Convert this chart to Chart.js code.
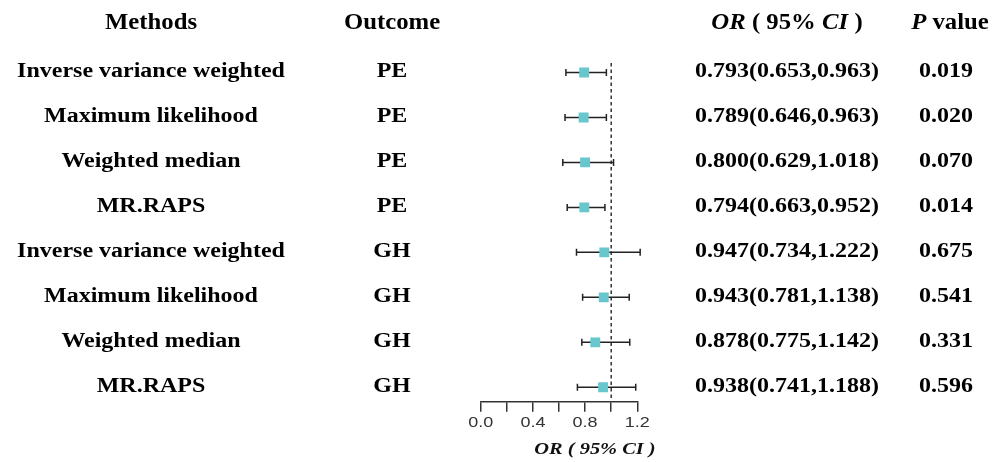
<!DOCTYPE html>
<html>
<head>
<meta charset="utf-8">
<script src="https://cdn.jsdelivr.net/npm/chart.js@4.4.0/dist/chart.umd.min.js"></script>
<style>
html,body{margin:0;padding:0;background:#fff;}
#wrap{position:relative;width:999px;height:462px;}
</style>
</head>
<body>
<div id="wrap"><canvas id="c"></canvas></div>
<script>
// ---- data ----
const methods = ["Inverse variance weighted","Maximum likelihood","Weighted median","MR.RAPS","Inverse variance weighted","Maximum likelihood","Weighted median","MR.RAPS"];
const outcomes = ["PE","PE","PE","PE","GH","GH","GH","GH"];
const orValues = [0.793,0.789,0.800,0.794,0.947,0.943,0.878,0.938];
const lowerCI = [0.653,0.646,0.629,0.663,0.734,0.781,0.775,0.741];
const upperCI = [0.963,0.963,1.018,0.952,1.222,1.138,1.142,1.188];
const pValues = ["0.019","0.020","0.070","0.014","0.675","0.541","0.331","0.596"];
const xTicks = [0.0,0.2,0.4,0.6,0.8,1.0,1.2];
const refLine = 1.0;

const SERIF = '"Liberation Serif","Times New Roman",serif';
const SANS = '"Liberation Sans",Arial,sans-serif';
const TEAL = '#68c6cd';
const INK = '#222222';
const SX = 1.2;   // horizontal text stretch seen in the reference (body)
const SXH = 1.1;  // header stretch

const points = orValues.map((v,i)=>({x:v,y:i+1}));

// draw a run of [text,font] segments centred on cx, horizontally stretched
function drawSegments(ctx, segs, cx, y, sx){
  sx = sx || SX;
  let total = 0;
  segs.forEach(s=>{ctx.font=s[1]; total += ctx.measureText(s[0]).width;});
  ctx.save();
  ctx.translate(cx, y);
  ctx.scale(sx, 1);
  let x = -total/2;
  ctx.textAlign='left';
  segs.forEach(s=>{ctx.font=s[1]; ctx.fillText(s[0], x, 0); x += ctx.measureText(s[0]).width;});
  ctx.restore();
}

const forestPlugin = {
  id:'forest',
  beforeDatasetsDraw(chart){
    const ctx = chart.ctx, xs = chart.scales.x, ys = chart.scales.y, ca = chart.chartArea;
    ctx.save();
    // reference dashed line
    ctx.strokeStyle = '#333';
    ctx.lineWidth = 1.5;
    ctx.setLineDash([3.5,3]);
    const rx = xs.getPixelForValue(refLine);
    ctx.beginPath(); ctx.moveTo(rx, ca.top); ctx.lineTo(rx, ca.bottom); ctx.stroke();
    ctx.setLineDash([]);
    // error bars
    ctx.strokeStyle = INK;
    ctx.lineWidth = 1.5;
    orValues.forEach((v,i)=>{
      const y = ys.getPixelForValue(i+1);
      const x1 = xs.getPixelForValue(lowerCI[i]);
      const x2 = xs.getPixelForValue(upperCI[i]);
      ctx.beginPath();
      ctx.moveTo(x1,y); ctx.lineTo(x2,y);
      ctx.moveTo(x1,y-3.5); ctx.lineTo(x1,y+3.5);
      ctx.moveTo(x2,y-3.5); ctx.lineTo(x2,y+3.5);
      ctx.stroke();
    });
    ctx.restore();
  },
  afterDraw(chart){
    const ctx = chart.ctx, xs = chart.scales.x, ys = chart.scales.y, ca = chart.chartArea;
    ctx.save();
    ctx.fillStyle = '#000';
    ctx.textBaseline = 'middle';
    const B = 'bold 20.5px '+SERIF;
    const HB = 'bold 22.5px '+SERIF, HBI = 'italic bold 22.5px '+SERIF;
    const colM = 151, colO = 392, colOR = 787, colP = 946;
    const hy = 23;
    drawSegments(ctx, [['Methods',HB]], colM, hy, SXH);
    drawSegments(ctx, [['Outcome',HB]], colO, hy, SXH);
    drawSegments(ctx, [['OR',HBI],[' ( 95% ',HB],['CI',HBI],[' )',HB]], colOR, hy, SXH);
    drawSegments(ctx, [['P',HBI],[' value',HB]], 950, hy, SXH);
    methods.forEach((m,i)=>{
      const y = ys.getPixelForValue(i+1) - 1;
      drawSegments(ctx, [[m,B]], colM, y, 1.17);
      drawSegments(ctx, [[outcomes[i],B]], colO, y, 1.17);
      drawSegments(ctx, [[orValues[i].toFixed(3)+'('+lowerCI[i].toFixed(3)+','+upperCI[i].toFixed(3)+')',B]], colOR, y, 1.17);
      drawSegments(ctx, [[pValues[i],B]], colP, y, 1.17);
    });
    // x tick labels (every other tick), stretched like the reference
    ctx.fillStyle = '#333';
    const TF = '15px '+SANS;
    xs.ticks.forEach((t,i)=>{
      if (i%2===0) drawSegments(ctx, [[Number(t.value).toFixed(1),TF]], xs.getPixelForValue(t.value), ca.bottom + 21);
    });
    // axis title
    ctx.fillStyle = '#111';
    const TT = 'italic bold 17px '+SERIF;
    drawSegments(ctx, [['OR ( 95% CI )',TT]], 595, 450);
    ctx.restore();
  }
};

new Chart(document.getElementById('c'), {
  type:'scatter',
  data:{datasets:[{
    data: points,
    pointStyle:'rect',
    pointRadius:7,
    pointHoverRadius:7,
    backgroundColor: TEAL,
    borderColor: TEAL,
    borderWidth:0
  }]},
  options:{
    responsive:true,
    maintainAspectRatio:false,
    animation:false,
    devicePixelRatio:1,
    events:[],
    layout:{padding:{left:480.7,right:361.7,top:63,bottom:0}},
    plugins:{legend:{display:false},tooltip:{enabled:false},title:{display:false}},
    scales:{
      x:{
        type:'linear',
        min:0, max:1.2,
        afterBuildTicks(s){ s.ticks = xTicks.map(v=>({value:v})); },
        afterFit(s){ s.height = 60.3; },
        border:{display:true,color:'#333',width:1.5},
        grid:{display:true,drawOnChartArea:false,drawTicks:true,tickLength:10,color:'#333',lineWidth:1.5},
        ticks:{
          autoSkip:false,
          maxRotation:0,
          padding:2,
          color:'rgba(0,0,0,0)',
          font:{family:SANS,size:15},
          callback:(v,i)=> (i%2===0 ? Number(v).toFixed(1) : '')
        }
      },
      y:{
        type:'linear',
        display:false,
        reverse:true,
        min:0.79, max:8.32
      }
    }
  },
  plugins:[forestPlugin]
});
</script>
</body>
</html>
